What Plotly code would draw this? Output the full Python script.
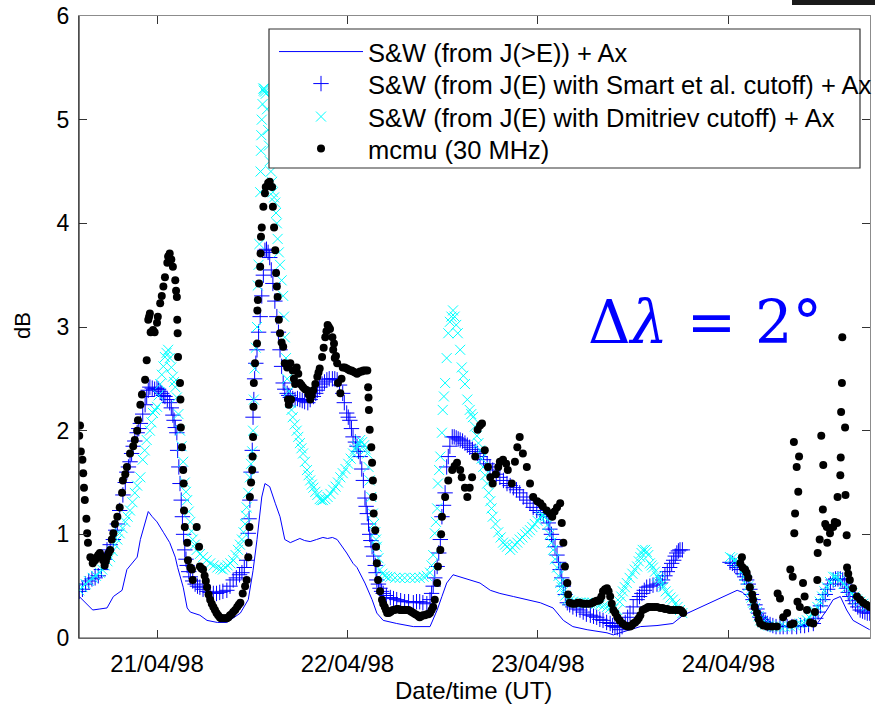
import pandas as pd
import plotly.graph_objects as go

# All times are hours since 20/04/1998 00:00 UT; values in dB.

# S&W (from J(>E)) + Ax : (time h, dB)
sw_line = [(14.2, 0.40), (15.6, 0.29), (15.9, 0.27), (16.8, 0.28), (17.7, 0.29), (18.5, 0.40), (19.6, 0.46),
           (20.2, 0.66), (21.5, 0.78), (21.9, 0.95), (22.9, 1.22), (23.4, 1.17), (24.0, 1.12), (24.8, 1.02),
           (25.6, 0.92), (26.3, 0.78), (26.6, 0.68), (27.3, 0.49), (27.8, 0.29), (28.2, 0.25), (29.4, 0.22),
           (30.3, 0.17), (31.6, 0.15), (32.8, 0.15), (34.5, 0.24), (35.5, 0.37), (36.1, 0.65), (36.6, 0.95),
           (37.2, 1.36), (37.6, 1.49), (38.2, 1.46), (38.9, 1.30), (39.5, 1.17), (40.1, 0.95), (40.8, 0.92),
           (41.4, 0.94), (42.0, 0.96), (42.6, 0.94), (43.3, 0.93), (44.1, 0.95), (44.9, 0.97), (45.5, 0.96),
           (46.1, 0.97), (46.7, 0.95), (47.4, 0.88), (47.9, 0.82), (48.7, 0.72), (49.2, 0.68), (50.2, 0.53),
           (51.1, 0.37), (51.7, 0.24), (52.5, 0.17), (54.2, 0.14), (56.3, 0.11), (58.4, 0.11), (59.3, 0.27),
           (59.9, 0.40), (60.5, 0.53), (61.3, 0.61), (62.2, 0.59), (63.4, 0.56), (64.7, 0.53), (66.0, 0.46),
           (67.2, 0.43), (68.9, 0.40), (70.6, 0.37), (72.3, 0.34), (73.9, 0.29), (75.2, 0.17), (76.4, 0.11),
           (78.2, 0.08), (80.7, 0.05), (81.5, 0.03), (83.2, 0.07), (84.9, 0.11), (87.0, 0.12), (89.0, 0.14),
           (90.3, 0.22), (97.1, 0.46), (97.8, 0.44), (98.7, 0.37), (99.6, 0.27), (100.4, 0.20), (101.6, 0.14),
           (103.8, 0.11), (105.9, 0.11), (107.2, 0.14), (108.4, 0.27), (109.2, 0.37), (110.1, 0.40),
           (110.9, 0.27), (111.7, 0.17), (113.0, 0.11), (113.8, 0.08)]

# S&W (from J(E) with Smart et al. cutoff) + Ax
smart = [(14.2, 0.45), (14.6, 0.47), (15.0, 0.52), (15.4, 0.55), (15.8, 0.57), (16.2, 0.58), (16.6, 0.60),
         (17.0, 0.66), (17.4, 0.76), (17.7, 0.85), (18.1, 0.90), (18.5, 0.95), (18.8, 1.04), (19.0, 1.10),
         (19.3, 1.23), (19.7, 1.38), (20.0, 1.50), (20.2, 1.60), (20.4, 1.65), (20.6, 1.70), (20.8, 1.78),
         (21.0, 1.85), (21.2, 1.90), (21.5, 1.98), (21.7, 2.02), (21.9, 2.07), (22.2, 2.16), (22.5, 2.25),
         (22.7, 2.33), (22.9, 2.39), (23.1, 2.42), (23.4, 2.41), (23.7, 2.40), (24.0, 2.41), (24.2, 2.40),
         (24.4, 2.38), (24.6, 2.36), (24.8, 2.34), (25.0, 2.33), (25.3, 2.30), (25.6, 2.27), (25.8, 2.22),
         (26.0, 2.15), (26.15, 2.10), (26.3, 2.03), (26.5, 1.98), (26.6, 1.81), (26.75, 1.65), (26.9, 1.49),
         (27.05, 1.33), (27.2, 1.17), (27.35, 1.00), (27.5, 0.85), (27.65, 0.76), (27.8, 0.70), (28.0, 0.64),
         (28.2, 0.59), (28.5, 0.55), (28.8, 0.52), (29.1, 0.50), (29.4, 0.49), (29.8, 0.47), (30.3, 0.45),
         (30.7, 0.44), (31.1, 0.43), (31.5, 0.43), (31.9, 0.44), (32.3, 0.45), (32.8, 0.46), (33.2, 0.50),
         (33.6, 0.56), (34.0, 0.58), (34.4, 0.61), (34.7, 0.63), (35.0, 0.68), (35.3, 0.75), (35.5, 1.01),
         (35.6, 1.15), (35.7, 1.33), (35.85, 1.60), (36.0, 1.81), (36.1, 2.13), (36.2, 2.30), (36.3, 2.50),
         (36.45, 2.65), (36.6, 2.78), (36.8, 2.95), (37.0, 3.10), (37.2, 3.30), (37.4, 3.50), (37.6, 3.74),
         (37.8, 3.75), (38.0, 3.72), (38.2, 3.67), (38.4, 3.55), (38.6, 3.42), (38.85, 3.25), (39.1, 3.10),
         (39.3, 2.95), (39.5, 2.78), (39.7, 2.62), (39.9, 2.46), (40.1, 2.40), (40.4, 2.36), (40.6, 2.34),
         (40.8, 2.32), (41.1, 2.31), (41.4, 2.30), (41.7, 2.31), (42.0, 2.30), (42.3, 2.29), (42.6, 2.28),
         (43.0, 2.27), (43.3, 2.30), (43.7, 2.33), (44.0, 2.36), (44.2, 2.39), (44.5, 2.42), (44.8, 2.45),
         (45.1, 2.47), (45.4, 2.49), (45.7, 2.50), (46.1, 2.50), (46.4, 2.50), (46.7, 2.49), (47.0, 2.44),
         (47.4, 2.36), (47.6, 2.27), (47.9, 2.17), (48.1, 2.13), (48.3, 2.10), (48.5, 2.02), (48.7, 1.94),
         (49.0, 1.89), (49.2, 1.85), (49.4, 1.80), (49.6, 1.75), (49.8, 1.63), (50.0, 1.52), (50.2, 1.35),
         (50.35, 1.27), (50.5, 1.20), (50.65, 1.10), (50.8, 1.00), (50.95, 0.94), (51.1, 0.88), (51.3, 0.79),
         (51.5, 0.70), (51.6, 0.63), (51.7, 0.56), (51.9, 0.52), (52.1, 0.48), (52.3, 0.45), (52.5, 0.43),
         (52.9, 0.41), (53.4, 0.39), (53.8, 0.38), (54.2, 0.37), (54.7, 0.36), (55.2, 0.35), (55.7, 0.35),
         (56.3, 0.34), (56.7, 0.35), (57.1, 0.35), (57.5, 0.34), (58.0, 0.33), (58.4, 0.37), (58.6, 0.43),
         (58.8, 0.50), (59.0, 0.58), (59.3, 0.69), (59.5, 0.82), (59.7, 0.95), (59.9, 1.17), (60.1, 1.28),
         (60.3, 1.40), (60.5, 1.65), (60.7, 1.75), (60.9, 1.85), (61.2, 1.94), (61.45, 1.94), (61.7, 1.93),
         (61.95, 1.92), (62.2, 1.91), (62.5, 1.90), (62.8, 1.88), (63.1, 1.86), (63.4, 1.84), (63.75, 1.82),
         (64.1, 1.80), (64.4, 1.78), (64.7, 1.75), (65.15, 1.72), (65.6, 1.68), (65.95, 1.65), (66.3, 1.62),
         (66.75, 1.58), (67.2, 1.55), (67.65, 1.52), (68.1, 1.49), (68.5, 1.47), (68.9, 1.45), (69.3, 1.43),
         (69.7, 1.40), (70.15, 1.36), (70.6, 1.33), (71.0, 1.30), (71.4, 1.26), (71.85, 1.23), (72.3, 1.21),
         (72.7, 1.19), (73.1, 1.17), (73.3, 1.11), (73.5, 1.05), (73.7, 1.00), (73.9, 0.95), (74.15, 0.88),
         (74.4, 0.80), (74.6, 0.73), (74.8, 0.66), (75.0, 0.58), (75.2, 0.50), (75.45, 0.42), (75.7, 0.34),
         (76.0, 0.32), (76.4, 0.30), (76.85, 0.28), (77.3, 0.27), (77.7, 0.25), (78.1, 0.23), (78.6, 0.22),
         (79.0, 0.21), (79.4, 0.20), (79.8, 0.18), (80.2, 0.17), (80.65, 0.15), (81.1, 0.14), (81.4, 0.12),
         (81.7, 0.11), (82.0, 0.10), (82.3, 0.08), (82.6, 0.11), (83.0, 0.15), (83.3, 0.20), (83.6, 0.24),
         (84.0, 0.30), (84.5, 0.37), (84.8, 0.40), (85.1, 0.43), (85.4, 0.46), (85.7, 0.49), (86.1, 0.50),
         (86.5, 0.51), (87.0, 0.52), (87.4, 0.53), (87.7, 0.56), (88.0, 0.60), (88.3, 0.64), (88.6, 0.68),
         (88.85, 0.72), (89.1, 0.75), (89.3, 0.79), (89.5, 0.82), (89.7, 0.84), (89.9, 0.85), (90.2, 0.85),
         (96.2, 0.73), (96.5, 0.72), (96.8, 0.70), (97.1, 0.68), (97.5, 0.66), (97.8, 0.62), (98.05, 0.59),
         (98.3, 0.56), (98.5, 0.52), (98.7, 0.47), (98.9, 0.42), (99.1, 0.37), (99.35, 0.32), (99.6, 0.28),
         (99.8, 0.24), (100.0, 0.20), (100.2, 0.18), (100.4, 0.16), (100.65, 0.15), (100.9, 0.14),
         (101.25, 0.13), (101.6, 0.12), (102.0, 0.11), (102.5, 0.11), (102.9, 0.11), (103.4, 0.11),
         (104.0, 0.11), (104.6, 0.11), (105.1, 0.12), (105.6, 0.12), (106.1, 0.13), (106.7, 0.14),
         (107.0, 0.19), (107.3, 0.25), (107.6, 0.31), (107.9, 0.37), (108.2, 0.42), (108.5, 0.47),
         (108.85, 0.52), (109.2, 0.56), (109.5, 0.57), (109.8, 0.57), (110.1, 0.57), (110.4, 0.56),
         (110.65, 0.52), (110.9, 0.48), (111.1, 0.44), (111.3, 0.40), (111.65, 0.36), (112.0, 0.33),
         (112.3, 0.30), (112.6, 0.27), (112.9, 0.26), (113.2, 0.25), (113.5, 0.24), (113.8, 0.24)]

# S&W (from J(E) with Dmitriev cutoff) + Ax
dmitriev = [(14.2, 0.46), (14.6, 0.49), (15.0, 0.52), (15.4, 0.55), (15.9, 0.58), (16.3, 0.60), (16.8, 0.63),
            (17.1, 0.66), (17.4, 0.70), (17.75, 0.74), (18.1, 0.78), (18.4, 0.84), (18.7, 0.90), (19.0, 0.95),
            (19.3, 1.01), (19.65, 1.06), (20.0, 1.12), (20.3, 1.17), (20.6, 1.23), (20.9, 1.31), (21.2, 1.40),
            (21.5, 1.47), (21.9, 1.55), (22.2, 1.72), (22.45, 1.81), (22.7, 1.91), (23.1, 2.00), (23.3, 2.08),
            (23.5, 2.17), (23.75, 2.20), (24.0, 2.23), (24.2, 2.34), (24.4, 2.45), (24.6, 2.54), (24.8, 2.62),
            (25.0, 2.71), (25.2, 2.75), (25.4, 2.78), (25.6, 2.70), (25.8, 2.61), (26.0, 2.52), (26.15, 2.47),
            (26.3, 2.42), (26.5, 2.32), (26.7, 2.16), (26.9, 2.00), (27.1, 1.85), (27.3, 1.70), (27.5, 1.50),
            (27.65, 1.41), (27.8, 1.33), (28.0, 1.22), (28.2, 1.12), (28.35, 1.03), (28.5, 0.95), (28.75, 0.90),
            (29.0, 0.85), (29.4, 0.81), (29.8, 0.78), (30.25, 0.75), (30.7, 0.72), (31.15, 0.70), (31.6, 0.68),
            (32.0, 0.67), (32.3, 0.66), (32.6, 0.68), (32.9, 0.70), (33.25, 0.72), (33.6, 0.75), (33.9, 0.80),
            (34.2, 0.85), (34.45, 0.90), (34.7, 0.95), (34.9, 1.02), (35.1, 1.10), (35.2, 1.18), (35.3, 1.26),
            (35.5, 1.40), (35.7, 1.55), (35.85, 1.68), (36.0, 1.80), (36.1, 2.00), (36.2, 2.30), (36.3, 2.60),
            (36.45, 2.80), (36.6, 3.00), (36.7, 3.40), (36.8, 3.60), (36.9, 3.80), (37.0, 4.30), (37.05, 4.50),
            (37.1, 4.70), (37.15, 4.85), (37.2, 5.00), (37.3, 5.15), (37.4, 5.30), (37.45, 5.28), (37.5, 5.30),
            (37.6, 5.27), (37.7, 5.25), (37.85, 5.10), (38.0, 4.90), (38.1, 4.75), (38.2, 4.60), (38.35, 4.50),
            (38.5, 4.40), (38.6, 4.30), (38.75, 4.25), (38.9, 4.20), (39.0, 4.10), (39.1, 4.00), (39.2, 3.85),
            (39.35, 3.72), (39.5, 3.60), (39.7, 3.45), (39.9, 3.30), (40.0, 3.10), (40.1, 2.90), (40.25, 2.70),
            (40.4, 2.50), (40.6, 2.38), (40.8, 2.27), (40.95, 2.20), (41.1, 2.13), (41.35, 2.06), (41.6, 2.00),
            (41.8, 1.94), (42.0, 1.88), (42.2, 1.83), (42.4, 1.78), (42.65, 1.70), (42.9, 1.62), (43.1, 1.57),
            (43.3, 1.52), (43.5, 1.48), (43.7, 1.45), (43.95, 1.41), (44.2, 1.38), (44.5, 1.34), (44.7, 1.33),
            (44.9, 1.33), (45.2, 1.34), (45.5, 1.36), (45.85, 1.39), (46.2, 1.43), (46.5, 1.46), (46.8, 1.50),
            (47.1, 1.55), (47.4, 1.59), (47.75, 1.63), (48.1, 1.68), (48.4, 1.73), (48.7, 1.78), (48.95, 1.82),
            (49.2, 1.85), (49.4, 1.88), (49.6, 1.91), (49.85, 1.89), (50.1, 1.86), (50.3, 1.82), (50.5, 1.78),
            (50.65, 1.65), (50.8, 1.52), (51.0, 1.36), (51.2, 1.20), (51.35, 1.10), (51.5, 1.02), (51.6, 0.95),
            (51.7, 0.88), (51.9, 0.77), (52.1, 0.66), (52.4, 0.62), (52.7, 0.60), (53.0, 0.59), (53.4, 0.59),
            (54.0, 0.58), (54.6, 0.58), (55.2, 0.58), (55.9, 0.58), (56.5, 0.58), (57.1, 0.58), (57.6, 0.59),
            (58.0, 0.60), (58.4, 0.63), (58.6, 0.70), (58.8, 0.80), (59.0, 1.01), (59.15, 1.12), (59.3, 1.25),
            (59.4, 1.49), (59.55, 1.62), (59.7, 1.75), (59.9, 1.98), (60.0, 2.20), (60.15, 2.33), (60.3, 2.46),
            (60.5, 2.70), (60.7, 2.94), (60.9, 3.05), (61.1, 3.10), (61.3, 3.16), (61.5, 3.10), (61.7, 3.02),
            (61.9, 2.94), (62.2, 2.78), (62.4, 2.61), (62.6, 2.53), (62.8, 2.45), (63.1, 2.30), (63.4, 2.20),
            (63.6, 2.16), (63.8, 2.13), (64.05, 2.04), (64.3, 1.95), (64.5, 1.88), (64.7, 1.81), (64.9, 1.73),
            (65.1, 1.65), (65.35, 1.57), (65.6, 1.49), (65.8, 1.40), (66.0, 1.32), (66.15, 1.25), (66.3, 1.17),
            (66.65, 1.10), (67.0, 1.02), (67.3, 0.97), (67.6, 0.92), (67.85, 0.90), (68.1, 0.88), (68.5, 0.85),
            (68.8, 0.87), (69.1, 0.90), (69.4, 0.92), (69.7, 0.95), (70.05, 0.97), (70.4, 1.00), (70.7, 1.02),
            (71.0, 1.04), (71.3, 1.07), (71.6, 1.10), (71.95, 1.13), (72.3, 1.17), (72.6, 1.18), (72.9, 1.17),
            (73.2, 1.09), (73.5, 1.00), (73.7, 0.92), (73.9, 0.85), (74.15, 0.76), (74.4, 0.68), (74.6, 0.60),
            (74.8, 0.53), (75.0, 0.49), (75.2, 0.45), (75.45, 0.41), (75.7, 0.37), (76.0, 0.36), (76.4, 0.35),
            (76.85, 0.34), (77.3, 0.34), (77.75, 0.34), (78.2, 0.34), (78.55, 0.34), (78.9, 0.34), (79.35, 0.33),
            (79.8, 0.32), (80.25, 0.31), (80.7, 0.30), (81.1, 0.29), (81.5, 0.28), (82.0, 0.27), (82.3, 0.35),
            (82.5, 0.40), (82.7, 0.45), (82.95, 0.49), (83.2, 0.53), (83.55, 0.58), (83.9, 0.62), (84.2, 0.66),
            (84.5, 0.69), (84.7, 0.74), (84.9, 0.78), (85.05, 0.82), (85.2, 0.85), (85.5, 0.85), (85.7, 0.83),
            (85.9, 0.80), (86.1, 0.72), (86.3, 0.70), (86.5, 0.68), (86.75, 0.64), (87.0, 0.60), (87.2, 0.58),
            (87.4, 0.56), (87.6, 0.52), (87.8, 0.49), (88.1, 0.45), (88.4, 0.42), (88.7, 0.39), (89.0, 0.37),
            (89.3, 0.33), (89.6, 0.30), (89.9, 0.27), (90.2, 0.24),
            (96.2, 0.78), (96.5, 0.77), (96.8, 0.75), (97.15, 0.73), (97.5, 0.72), (97.8, 0.65), (98.05, 0.60),
            (98.3, 0.56), (98.5, 0.50), (98.7, 0.45), (98.9, 0.39), (99.1, 0.34), (99.35, 0.29), (99.6, 0.25),
            (99.8, 0.21), (100.0, 0.17), (100.3, 0.15), (100.6, 0.13), (101.1, 0.12), (101.6, 0.11),
            (102.0, 0.11), (102.5, 0.11), (103.1, 0.11), (103.8, 0.11), (104.4, 0.12), (105.0, 0.14),
            (105.45, 0.15), (105.9, 0.17), (106.2, 0.20), (106.5, 0.23), (106.85, 0.26), (107.2, 0.30),
            (107.5, 0.35), (107.8, 0.40), (108.1, 0.45), (108.4, 0.49), (108.8, 0.54), (109.2, 0.59),
            (109.45, 0.59), (109.7, 0.58), (110.1, 0.56), (110.5, 0.52), (110.9, 0.49), (111.25, 0.46),
            (111.6, 0.43), (111.9, 0.40), (112.2, 0.37), (112.6, 0.35), (113.0, 0.33), (113.4, 0.31),
            (113.8, 0.30)]

# mcmu (30 MHz) riometer
mcmu = [(14.2, 1.95), (14.3, 2.05), (14.4, 1.80), (14.6, 1.72), (14.7, 1.59), (14.8, 1.45), (14.9, 1.33),
        (15.1, 1.15), (15.2, 1.01), (15.3, 0.92), (15.6, 0.78), (15.9, 0.72), (16.0, 0.74), (16.2, 0.75),
        (16.4, 0.78), (16.6, 0.80), (16.8, 0.82), (17.0, 0.79), (17.2, 0.75), (17.4, 0.70), (17.55, 0.74),
        (17.7, 0.78), (17.9, 0.82), (18.1, 0.85), (18.3, 0.95), (18.5, 1.01), (18.7, 1.10), (19.0, 1.17),
        (19.3, 1.26), (19.6, 1.40), (19.7, 1.52), (20.0, 1.58), (20.2, 1.65), (20.6, 1.78), (21.0, 1.85),
        (21.2, 1.91), (21.5, 2.00), (21.6, 2.10), (21.9, 2.25), (22.1, 2.35), (22.5, 2.49), (22.7, 2.68),
        (22.9, 3.07), (23.0, 3.10), (23.1, 3.13), (23.2, 2.95), (23.5, 2.97), (23.7, 2.95), (24.0, 3.04),
        (24.1, 3.10), (24.4, 3.23), (24.6, 3.30), (24.8, 3.39), (25.0, 3.48), (25.3, 3.62), (25.4, 3.68),
        (25.6, 3.71), (25.8, 3.65), (26.0, 3.58), (26.3, 3.45), (26.4, 3.35), (26.5, 3.29), (26.55, 3.07),
        (26.6, 2.94), (26.65, 2.71), (26.9, 2.46), (26.95, 2.30), (27.0, 2.03), (27.15, 1.84), (27.3, 1.62),
        (27.35, 1.49), (27.4, 1.23), (27.5, 1.07), (27.8, 0.92), (27.9, 0.75), (28.2, 0.68), (28.4, 0.66),
        (28.5, 0.56), (29.0, 1.07), (29.3, 0.88), (29.4, 0.69), (29.6, 0.67), (29.8, 0.66), (30.0, 0.60),
        (30.15, 0.55), (30.3, 0.49), (30.5, 0.42), (30.7, 0.37), (30.9, 0.33), (31.1, 0.30), (31.3, 0.27),
        (31.5, 0.24), (31.7, 0.22), (31.9, 0.20), (32.05, 0.19), (32.3, 0.19), (32.55, 0.19), (32.8, 0.19),
        (33.0, 0.20), (33.2, 0.22), (33.4, 0.23), (33.6, 0.25), (33.85, 0.27), (34.1, 0.30), (34.3, 0.32),
        (34.5, 0.34), (34.8, 0.43), (35.1, 0.50), (35.3, 0.56), (35.5, 0.78), (35.55, 0.92), (35.65, 1.07),
        (35.7, 1.36), (35.85, 1.50), (36.0, 1.62), (36.05, 1.75), (36.1, 1.94), (36.15, 2.23), (36.2, 2.46),
        (36.35, 2.65), (36.6, 2.84), (36.65, 3.16), (36.7, 3.26), (36.85, 3.42), (37.0, 3.58), (37.05, 3.71),
        (37.1, 3.87), (37.2, 3.96), (37.4, 4.16), (37.6, 4.29), (37.7, 4.35), (38.0, 4.39), (38.2, 4.40),
        (38.5, 4.35), (38.6, 4.16), (38.75, 3.96), (38.9, 3.74), (39.0, 3.52), (39.1, 3.39), (39.2, 3.29),
        (39.35, 3.07), (39.5, 2.94), (39.7, 2.85), (39.9, 2.81), (40.1, 2.65), (40.4, 2.61), (40.5, 2.30),
        (40.6, 2.25), (40.8, 2.65), (40.9, 2.30), (41.1, 2.58), (41.25, 2.50), (41.4, 2.45), (41.6, 2.61),
        (41.8, 2.55), (42.0, 2.46), (42.2, 2.44), (42.4, 2.42), (42.65, 2.40), (42.9, 2.39), (43.1, 2.35),
        (43.3, 2.30), (43.5, 2.34), (43.7, 2.39), (43.95, 2.45), (44.2, 2.52), (44.35, 2.56), (44.5, 2.60),
        (44.8, 2.71), (45.0, 2.80), (45.2, 2.90), (45.35, 2.96), (45.5, 3.02), (45.65, 3.00), (45.8, 2.98),
        (46.1, 2.90), (46.2, 2.78), (46.3, 2.84), (46.4, 2.70), (46.55, 2.72), (46.7, 2.65), (46.8, 2.46),
        (47.1, 2.36), (47.25, 2.50), (47.4, 2.61), (47.65, 2.61), (47.9, 2.60), (48.1, 2.59), (48.3, 2.58),
        (48.5, 2.58), (48.7, 2.57), (48.95, 2.56), (49.2, 2.55), (49.4, 2.56), (49.6, 2.57), (49.8, 2.57),
        (50.0, 2.58), (50.25, 2.58), (50.5, 2.58), (50.6, 2.42), (50.65, 2.32), (50.7, 2.20), (50.8, 2.01),
        (51.0, 1.84), (51.1, 1.69), (51.2, 1.52), (51.25, 1.36), (51.3, 1.20), (51.5, 1.04), (51.6, 0.88),
        (51.7, 0.72), (51.85, 0.56), (52.1, 0.45), (52.35, 0.37), (52.5, 0.33), (52.7, 0.30), (52.85, 0.27),
        (53.0, 0.24), (53.2, 0.24), (53.4, 0.25), (53.55, 0.26), (53.7, 0.27), (53.95, 0.27), (54.2, 0.28),
        (54.4, 0.28), (54.6, 0.27), (54.8, 0.27), (55.0, 0.27), (55.25, 0.27), (55.5, 0.27), (55.7, 0.27),
        (55.9, 0.26), (56.1, 0.25), (56.3, 0.24), (56.55, 0.23), (56.8, 0.22), (56.95, 0.21), (57.1, 0.20),
        (57.3, 0.21), (57.5, 0.22), (57.75, 0.22), (58.0, 0.23), (58.2, 0.23), (58.4, 0.24), (58.6, 0.27),
        (58.8, 0.30), (59.0, 0.37), (59.3, 0.53), (59.4, 0.69), (59.7, 0.85), (59.8, 1.00), (59.9, 1.17),
        (60.3, 1.36), (60.7, 1.52), (61.2, 1.62), (61.5, 1.66), (61.8, 1.69), (62.2, 1.62), (62.4, 1.55),
        (62.8, 1.45), (63.1, 1.36), (63.4, 1.45), (63.7, 1.55), (64.1, 1.75), (64.4, 2.01), (64.7, 2.05),
        (64.95, 2.07), (65.3, 1.81), (65.7, 1.65), (66.0, 1.55), (66.3, 1.49), (66.7, 1.58), (67.0, 1.65),
        (67.2, 1.70), (67.6, 1.72), (68.0, 1.68), (68.2, 1.62), (68.7, 1.49), (69.1, 1.70), (69.4, 1.84),
        (69.7, 1.94), (70.1, 1.78), (70.6, 1.65), (71.0, 1.49), (71.4, 1.36), (71.9, 1.32), (72.3, 1.30),
        (72.6, 1.27), (73.1, 1.23), (73.5, 1.20), (73.8, 1.17), (74.1, 1.22), (74.4, 1.26), (74.8, 1.30),
        (75.0, 1.11), (75.2, 0.92), (75.4, 0.69), (75.7, 0.53), (75.8, 0.42), (76.0, 0.34), (76.35, 0.33),
        (76.7, 0.33), (77.0, 0.34), (77.3, 0.34), (77.6, 0.33), (77.9, 0.33), (78.25, 0.33), (78.6, 0.33),
        (78.9, 0.34), (79.1, 0.35), (79.4, 0.36), (79.6, 0.36), (79.8, 0.37), (80.0, 0.40), (80.2, 0.45),
        (80.45, 0.47), (80.7, 0.48), (80.9, 0.45), (81.1, 0.40), (81.3, 0.33), (81.5, 0.27), (81.75, 0.24),
        (82.0, 0.20), (82.3, 0.17), (82.65, 0.14), (83.0, 0.12), (83.3, 0.11), (83.6, 0.11), (83.8, 0.12),
        (84.0, 0.14), (84.25, 0.15), (84.5, 0.17), (84.7, 0.19), (84.9, 0.22), (85.2, 0.27), (85.45, 0.28),
        (85.7, 0.29), (85.9, 0.30), (86.1, 0.30), (86.4, 0.30), (86.7, 0.30), (87.0, 0.30), (87.4, 0.29),
        (87.7, 0.29), (88.0, 0.28), (88.3, 0.28), (88.6, 0.27), (88.95, 0.27), (89.3, 0.27), (89.6, 0.27),
        (89.9, 0.27), (90.1, 0.26), (90.3, 0.24),
        (97.5, 0.72), (97.7, 0.78), (97.8, 0.68), (98.1, 0.66), (98.3, 0.63), (98.5, 0.58), (98.7, 0.49),
        (99.0, 0.42), (99.1, 0.37), (99.3, 0.30), (99.6, 0.24), (99.8, 0.18), (100.0, 0.14), (100.4, 0.12),
        (100.9, 0.11), (101.5, 0.11), (102.1, 0.11), (102.2, 0.43), (102.5, 0.38), (102.9, 0.20),
        (103.4, 0.24), (103.8, 0.66), (103.85, 0.13), (104.1, 0.59), (104.2, 0.14), (104.25, 1.89),
        (104.3, 1.01), (104.4, 1.20), (104.6, 1.65), (104.7, 0.35), (104.8, 1.41), (104.9, 1.75),
        (105.0, 0.30), (105.4, 0.53), (105.6, 0.40), (105.9, 0.27), (106.3, 0.15), (106.7, 0.14),
        (106.9, 0.25), (107.2, 0.56), (107.25, 0.82), (107.5, 0.95), (107.7, 1.95), (107.9, 1.24),
        (107.95, 1.67), (108.2, 1.10), (108.4, 1.07), (108.45, 0.92), (108.8, 1.01), (109.2, 1.07),
        (109.4, 1.12), (109.7, 1.11), (109.75, 1.36), (110.1, 1.57), (110.15, 1.74), (110.2, 2.18),
        (110.3, 2.46), (110.35, 2.90), (110.7, 2.03), (110.75, 1.38), (110.9, 0.99), (110.95, 0.68),
        (111.1, 0.62), (111.3, 0.56), (111.7, 0.48), (112.2, 0.40), (112.6, 0.37), (113.0, 0.34),
        (113.4, 0.32), (113.8, 0.30)]

series_names = ["S&W (from J(>E)) + Ax",
                "S&W (from J(E) with Smart et al. cutoff) + Ax",
                "S&W (from J(E) with Dmitriev cutoff) + Ax",
                "mcmu (30 MHz)"]
tick_dates = ["1998-04-21", "1998-04-22", "1998-04-23", "1998-04-24"]
tick_text = ["21/04/98", "22/04/98", "23/04/98", "24/04/98"]
y_ticks = [0, 1, 2, 3, 4, 5, 6]

base = pd.Timestamp("1998-04-20")


def to_dt(hours):
    return base + pd.to_timedelta(hours, unit="h")


def split(pairs):
    t, v = zip(*pairs)
    return to_dt(list(t)), list(v)


W, H = 875, 706
L, R, T, B = 79, 5, 16, 68
pw, ph = W - L - R, H - T - B


def px(xp):
    return (xp - L) / pw


def py(yp):
    return (H - B - yp) / ph


FONT = "Liberation Sans, Arial, sans-serif"

fig = go.Figure()
x, y = split(sw_line)
fig.add_trace(go.Scatter(x=x, y=y, mode="lines", line=dict(color="#0000FF", width=1),
                         name=series_names[0], legend="legend"))
x, y = split(smart)
fig.add_trace(go.Scatter(x=x, y=y, mode="markers",
                         marker=dict(symbol="cross-thin", size=11, color="#0000FF",
                                     line=dict(color="#0000FF", width=1)),
                         name=series_names[1], legend="legend2"))
x, y = split(dmitriev)
fig.add_trace(go.Scatter(x=x, y=y, mode="markers",
                         marker=dict(symbol="x-thin", size=10, color="#00FFFF",
                                     line=dict(color="#00FFFF", width=1)),
                         name=series_names[2], legend="legend3"))
x, y = split(mcmu)
fig.add_trace(go.Scatter(x=x, y=y, mode="markers",
                         marker=dict(symbol="circle", size=8, color="#000000"),
                         name=series_names[3], legend="legend4"))

row_centres = [52, 84, 117, 149]
legend_common = dict(xref="container", yref="container", xanchor="left", yanchor="middle",
                     bgcolor="rgba(0,0,0,0)", borderwidth=0,
                     font=dict(size=25.5, family=FONT, color="black"), itemwidth=84)
legends = {}
for i, yc in enumerate(row_centres):
    key = "legend" if i == 0 else f"legend{i + 1}"
    legends[key] = dict(x=274 / W, y=1 - yc / H, **legend_common)

fig.update_layout(
    width=W, height=H,
    margin=dict(l=L, r=R, t=T, b=B, pad=0, autoexpand=False),
    paper_bgcolor="white", plot_bgcolor="white",
    font=dict(family=FONT, color="black"),
    showlegend=True,
    **legends,
    xaxis=dict(range=[to_dt(14.17), to_dt(113.84)],
               tickmode="array", tickvals=tick_dates, ticktext=tick_text,
               ticks="inside", ticklen=8, tickcolor="#333333",
               showgrid=False, zeroline=False,
               showline=True, linecolor="#8c8c8c", mirror="ticks",
               tickfont=dict(size=24, family=FONT, color="black"),
               ticklabelstandoff=4),
    yaxis=dict(range=[0, 6], tickmode="array", tickvals=y_ticks,
               ticks="inside", ticklen=8, tickcolor="#333333",
               showgrid=False, zeroline=False,
               showline=True, linecolor="#8c8c8c", mirror="ticks",
               tickfont=dict(size=23, family=FONT, color="black"),
               ticklabelstandoff=4),
    shapes=[
        dict(type="rect", xref="paper", yref="paper",
             x0=px(269), x1=px(860), y0=py(168), y1=py(29),
             line=dict(color="#333333", width=1.2), fillcolor="white", layer="above"),
        dict(type="line", xref="paper", yref="paper", x0=0, x1=0, y0=0, y1=1,
             line=dict(color="#222222", width=1.2), layer="above"),
        dict(type="line", xref="paper", yref="paper", x0=0, x1=1, y0=0, y1=0,
             line=dict(color="#444444", width=1.2), layer="above"),
        dict(type="rect", xref="paper", yref="paper",
             x0=px(792), x1=px(876), y0=py(5), y1=py(-1),
             line=dict(width=0), fillcolor="#1a1a1a", layer="above"),
    ],
    annotations=[
        dict(text="dB", xref="paper", yref="paper", x=px(22), y=py(325),
             showarrow=False, textangle=-90, xanchor="center", yanchor="middle",
             font=dict(size=22, family=FONT, color="black")),
        dict(text="Date/time (UT)", xref="paper", yref="paper", x=px(473), y=py(690),
             showarrow=False, xanchor="center", yanchor="middle",
             font=dict(size=24, family=FONT, color="black")),
        dict(text="Δ<i>λ</i> = 2°", xref="paper", yref="paper", x=px(705), y=py(322),
             showarrow=False, xanchor="center", yanchor="middle",
             font=dict(size=59, family="DejaVu Serif, serif", color="#0000FF")),
    ],
)

fig.write_html("out.html")
